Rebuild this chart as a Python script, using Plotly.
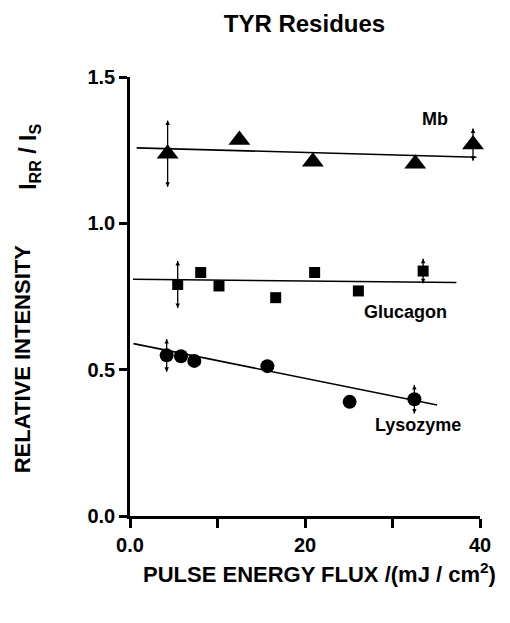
import plotly.graph_objects as go

# ---- data ----
mb_x = [4.3, 12.5, 20.9, 32.6, 39.2]
mb_y = [1.238, 1.285, 1.210, 1.204, 1.269]
mb_err = [0.113, None, None, None, 0.055]
mb_fit_x = [0.76, 39.6]
mb_fit_y = [1.258, 1.226]

glu_x = [5.45, 8.08, 10.17, 16.65, 21.1, 26.1, 33.5]
glu_y = [0.791, 0.832, 0.786, 0.746, 0.832, 0.769, 0.837]
glu_err = [0.08, None, None, None, None, None, 0.042]
glu_fit_x = [0.34, 37.3]
glu_fit_y = [0.809, 0.798]

lys_x = [4.19, 5.83, 7.35, 15.7, 25.1, 32.5]
lys_y = [0.549, 0.546, 0.530, 0.512, 0.390, 0.399]
lys_err = [0.056, None, None, None, None, 0.049]
lys_fit_x = [0.4, 35.1]
lys_fit_y = [0.589, 0.379]

x_tickvals = [0, 20, 40]
x_ticktext = ["0.0", "20", "40"]
x_minor_tickvals = [10, 30]
y_tickvals = [0, 0.5, 1.0, 1.5]
y_ticktext = ["0.0", "0.5", "1.0", "1.5"]

FONT = "Liberation Sans, Arial, sans-serif"

fig = go.Figure()

# fit lines
for fx, fy in [(mb_fit_x, mb_fit_y), (glu_fit_x, glu_fit_y), (lys_fit_x, lys_fit_y)]:
    fig.add_trace(go.Scatter(x=fx, y=fy, mode="lines",
                             line=dict(color="black", width=1.6),
                             showlegend=False, hoverinfo="skip"))

# error bars with arrow heads (built from the data arrays)
eb_x, eb_y, head_x, head_y, head_sym = [], [], [], [], []
for xs, ys, es in [(mb_x, mb_y, mb_err), (glu_x, glu_y, glu_err), (lys_x, lys_y, lys_err)]:
    for xv, yv, ev in zip(xs, ys, es):
        if ev is None:
            continue
        eb_x += [xv, xv, None]
        eb_y += [yv - ev, yv + ev, None]
        head_x += [xv, xv]
        head_y += [yv + ev, yv - ev]
        head_sym += ["arrow-up", "arrow-down"]

fig.add_trace(go.Scatter(x=eb_x, y=eb_y, mode="lines",
                         line=dict(color="black", width=1.3),
                         showlegend=False, hoverinfo="skip", cliponaxis=False))
fig.add_trace(go.Scatter(x=head_x, y=head_y, mode="markers",
                         marker=dict(symbol=head_sym, size=4.5, color="black"),
                         showlegend=False, hoverinfo="skip", cliponaxis=False))

fig.add_trace(go.Scatter(x=mb_x, y=mb_y, mode="markers", name="Mb",
                         marker=dict(symbol="triangle-up", size=19, color="black"),
                         showlegend=False, cliponaxis=False))
fig.add_trace(go.Scatter(x=glu_x, y=glu_y, mode="markers", name="Glucagon",
                         marker=dict(symbol="square", size=11, color="black"),
                         showlegend=False, cliponaxis=False))
fig.add_trace(go.Scatter(x=lys_x, y=lys_y, mode="markers", name="Lysozyme",
                         marker=dict(symbol="circle", size=14, color="black"),
                         showlegend=False, cliponaxis=False))

annotations = []
# series labels
for txt, xv, yv in [("Mb", 34.9, 1.358), ("Glucagon", 31.5, 0.696), ("Lysozyme", 32.9, 0.311)]:
    annotations.append(dict(x=xv, y=yv, xref="x", yref="y", text=txt, showarrow=False,
                            xanchor="center", yanchor="middle",
                            font=dict(family=FONT, size=18, color="black", weight="bold")))

# axis titles
annotations.append(dict(x=-0.307, y=0.356, xref="paper", yref="paper",
                        text="RELATIVE INTENSITY", textangle=-90, showarrow=False,
                        xanchor="center", yanchor="middle",
                        font=dict(family=FONT, size=22, color="black", weight="bold")))
annotations.append(dict(x=-0.286, y=0.818, xref="paper", yref="paper",
                        text="I<sub>RR</sub> / I<sub>S</sub>", textangle=-90, showarrow=False,
                        xanchor="center", yanchor="middle",
                        font=dict(family=FONT, size=23, color="black", weight="bold")))
annotations.append(dict(x=0.54, y=-0.13, xref="paper", yref="paper",
                        text="PULSE ENERGY FLUX /(mJ / cm<sup>2</sup>)", showarrow=False,
                        xanchor="center", yanchor="middle",
                        font=dict(family=FONT, size=22, color="black", weight="bold")))

fig.update_layout(
    width=510, height=623,
    margin=dict(l=130, r=30, t=77, b=107),
    paper_bgcolor="white", plot_bgcolor="white",
    title=dict(text="TYR Residues", x=0.597, xanchor="center",
               y=1 - 24 / 623, yanchor="middle",
               font=dict(family=FONT, size=24, color="black", weight="bold")),
    annotations=annotations,
    showlegend=False,
)

fig.update_xaxes(range=[0, 40], tickvals=x_tickvals, ticktext=x_ticktext,
                 showline=True, linecolor="black", linewidth=2.5,
                 ticks="outside", ticklen=9, tickwidth=2.5, tickcolor="black",
                 minor=dict(tickvals=x_minor_tickvals, ticks="outside", ticklen=9,
                            tickwidth=2.5, tickcolor="black", showgrid=False),
                 showgrid=False, zeroline=False,
                 tickfont=dict(family=FONT, size=20, color="black", weight="bold"))
fig.update_yaxes(range=[0, 1.5], tickvals=y_tickvals, ticktext=y_ticktext,
                 showline=True, linecolor="black", linewidth=2.5,
                 ticks="outside", ticklen=8, tickwidth=2.5, tickcolor="black",
                 showgrid=False, zeroline=False,
                 tickfont=dict(family=FONT, size=20, color="black", weight="bold"))

fig.write_html("out.html")
